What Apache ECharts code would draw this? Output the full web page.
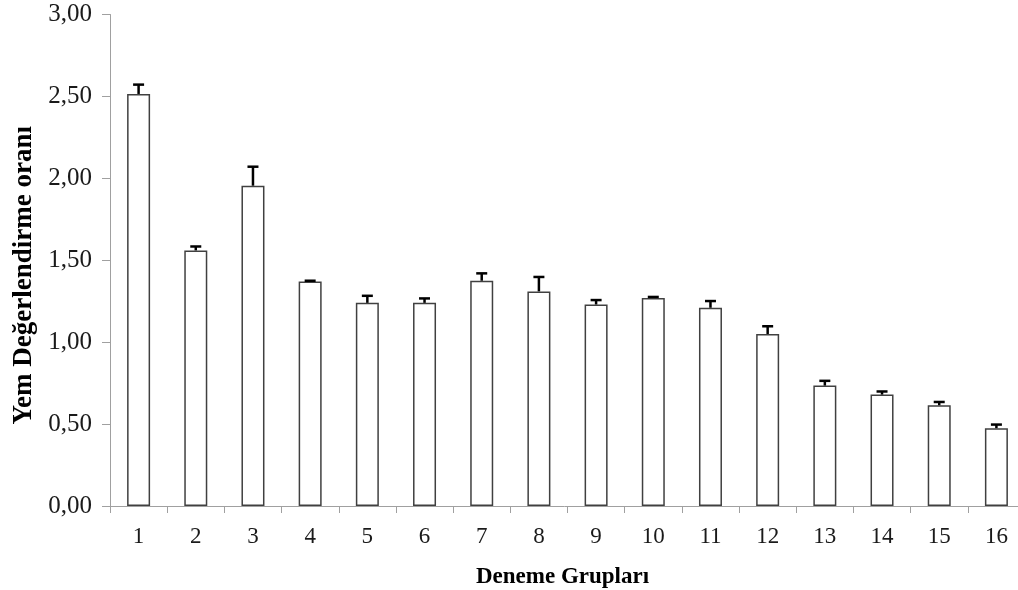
<!DOCTYPE html>
<html>
<head>
<meta charset="utf-8">
<script src="https://cdn.jsdelivr.net/npm/echarts@6/dist/echarts.min.js"></script>
<style>html,body{margin:0;padding:0;background:#fff}#c{width:1018px;height:590px}</style>
</head>
<body>
<div id="c"></div>
<script>
var categories = ['1','2','3','4','5','6','7','8','9','10','11','12','13','14','15','16'];
var values = [2.515, 1.56, 1.955, 1.37, 1.24, 1.24, 1.375, 1.31, 1.23, 1.27, 1.21, 1.05, 0.735, 0.68, 0.615, 0.475];
var errors = [0.057, 0.024, 0.116, 0.005, 0.043, 0.027, 0.045, 0.088, 0.027, 0.006, 0.041, 0.047, 0.029, 0.019, 0.020, 0.022];

var chart = echarts.init(document.getElementById('c'), null, {renderer: 'canvas'});
var font = '"Liberation Serif", "Times New Roman", serif';
var errData = values.map(function (v, i) { return [i, v, v + errors[i]]; });

chart.setOption({
  animation: false,
  backgroundColor: '#fff',
  grid: {left: 110, top: 14.5, width: 915, height: 491.5, containLabel: false, outerBoundsMode: 'none'},
  xAxis: {
    type: 'category',
    data: categories,
    name: 'Deneme Grupları',
    nameLocation: 'middle',
    nameGap: 60,
    nameTextStyle: {fontFamily: font, fontSize: 23, fontWeight: 'bold', color: '#000', padding: [0, 10, 0, 0]},
    axisLine: {lineStyle: {color: '#a0a0a0', width: 1}},
    axisTick: {show: true, length: 7, lineStyle: {color: '#a0a0a0'}},
    axisLabel: {fontFamily: font, fontSize: 23, color: '#1a1a1a', margin: 19}
  },
  yAxis: {
    type: 'value',
    min: 0, max: 3, interval: 0.5,
    name: 'Yem Değerlendirme oranı',
    nameLocation: 'middle',
    nameGap: 72,
    nameRotate: 90,
    nameTextStyle: {fontFamily: font, fontSize: 27, fontWeight: 'bold', color: '#000', padding: [0, 30, 0, 0]},
    axisLine: {show: true, lineStyle: {color: '#a0a0a0', width: 1}},
    axisTick: {show: true, length: 8, lineStyle: {color: '#a0a0a0'}},
    splitLine: {show: false},
    axisLabel: {
      fontFamily: font, fontSize: 25, color: '#1a1a1a', margin: 18,
      formatter: function (v) { return v.toFixed(2).replace('.', ','); }
    }
  },
  series: [
    {
      type: 'bar',
      data: values,
      barWidth: 23,
      itemStyle: {color: '#ffffff', borderColor: '#404040', borderWidth: 1.5}
    },
    {
      type: 'custom',
      data: errData,
      z: 5,
      renderItem: function (params, api) {
        var base = api.coord([api.value(0), api.value(1)]);
        var top = api.coord([api.value(0), api.value(2)]);
        var half = 5.5;
        return {
          type: 'group',
          children: [
            {type: 'line', shape: {x1: base[0], y1: base[1], x2: top[0], y2: top[1]},
             style: {stroke: '#000', lineWidth: 2.5}},
            {type: 'line', shape: {x1: top[0] - half, y1: top[1], x2: top[0] + half, y2: top[1]},
             style: {stroke: '#000', lineWidth: 2.5}}
          ]
        };
      }
    }
  ]
});
</script>
</body>
</html>
